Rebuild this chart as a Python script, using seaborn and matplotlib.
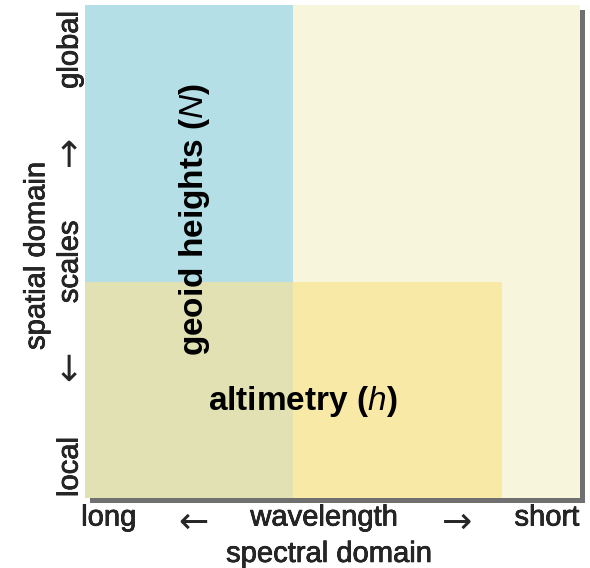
import matplotlib
matplotlib.use("Agg")
import matplotlib.pyplot as plt
import matplotlib.patheffects as pe
import seaborn as sns

# regions of the diagram (wavelength axis: 0 = long, 1 = short; scale axis: 0 = local, 1 = global)
region_names = ["spectrum", "geoid heights", "altimetry", "overlap"]
region_x0 = [0.0, 0.0, 0.42, 0.0]
region_x1 = [1.0, 0.42, 0.842, 0.42]
region_y0 = [0.0, 0.438, 0.0, 0.0]
region_y1 = [1.0, 1.0, 0.438, 0.438]
region_colors = ["#F7F5DC", "#B4DFE7", "#F8E9A6", "#E1E1B4"]

x_tick_labels = ["long", "\u2190", "wavelength", "\u2192", "short"]
y_tick_labels = ["local", "\u2193", "scales", "\u2191", "global"]
x_title = "spectral domain"
y_title = "spatial domain"
arrows = ["\u2190", "\u2192", "\u2191", "\u2193"]

sns.set_theme(style="white")
plt.rcParams["font.family"] = ["Liberation Sans", "DejaVu Sans"]
plt.rcParams["mathtext.fontset"] = "custom"
plt.rcParams["mathtext.it"] = "Liberation Sans:italic"
plt.rcParams["mathtext.rm"] = "Liberation Sans"

fig = plt.figure(figsize=(5.9, 5.68), dpi=100)
ax = fig.add_axes([85 / 590, 70 / 568, 495 / 590, 493 / 568])

for i, name in enumerate(region_names):
    bars = ax.bar(region_x0[i], region_y1[i] - region_y0[i],
                  width=region_x1[i] - region_x0[i], bottom=region_y0[i],
                  align="edge", color=region_colors[i], linewidth=0,
                  clip_on=False, zorder=1 + i)
    if name == "spectrum":
        for b in bars:
            b.set_path_effects([pe.SimplePatchShadow(offset=(3.5, -3.5),
                                                     shadow_rgbFace="#606060",
                                                     alpha=0.9),
                                pe.Normal()])

ax.set_xlim(0, 1)
ax.set_ylim(0, 1)
for s in ax.spines.values():
    s.set_visible(False)

thicken = [pe.withStroke(linewidth=0.5, foreground="black")]

ax.set_xticks([0.048, 0.218, 0.483, 0.752, 0.933])
ax.set_xticklabels(x_tick_labels, fontsize=21)
ax.set_yticks([0.063, 0.258, 0.479, 0.692, 0.909])
ax.set_yticklabels(y_tick_labels, fontsize=21, rotation=90, va="center")
ax.tick_params(axis="both", length=0)
ax.tick_params(axis="x", pad=4)
ax.tick_params(axis="y", pad=1)

for lab in ax.get_xticklabels() + ax.get_yticklabels():
    lab.set_path_effects(thicken)
    if lab.get_text() in arrows:
        lab.set_fontfamily("DejaVu Sans")
        lab.set_fontsize(26)
        lab.set_path_effects([])
for lab in ax.get_xticklabels():
    if lab.get_text() in arrows:
        lab.set_va("center")
        lab.set_y(-0.04)
for lab in ax.get_yticklabels():
    if lab.get_text() in arrows:
        lab.set_rotation(0)
        lab.set_ha("center")
        lab.set_x(-0.03)

ax.set_xlabel(x_title, fontsize=21)
ax.set_ylabel(y_title, fontsize=21)
ax.xaxis.set_label_coords(0.493, -0.085)
ax.yaxis.set_label_coords(-0.070, 0.491)
ax.xaxis.label.set_path_effects(thicken)
ax.yaxis.label.set_path_effects(thicken)

ax.text(0.222, 0.564, r"geoid heights ($\mathit{N}$)", rotation=90,
        ha="center", va="center", fontsize=24, fontweight="bold",
        color="black", zorder=10)
ax.text(0.440, 0.195, r"altimetry ($\mathit{h}$)",
        ha="center", va="center", fontsize=24, fontweight="bold",
        color="black", zorder=10)

fig.savefig("out.png", dpi=100, facecolor="white")
